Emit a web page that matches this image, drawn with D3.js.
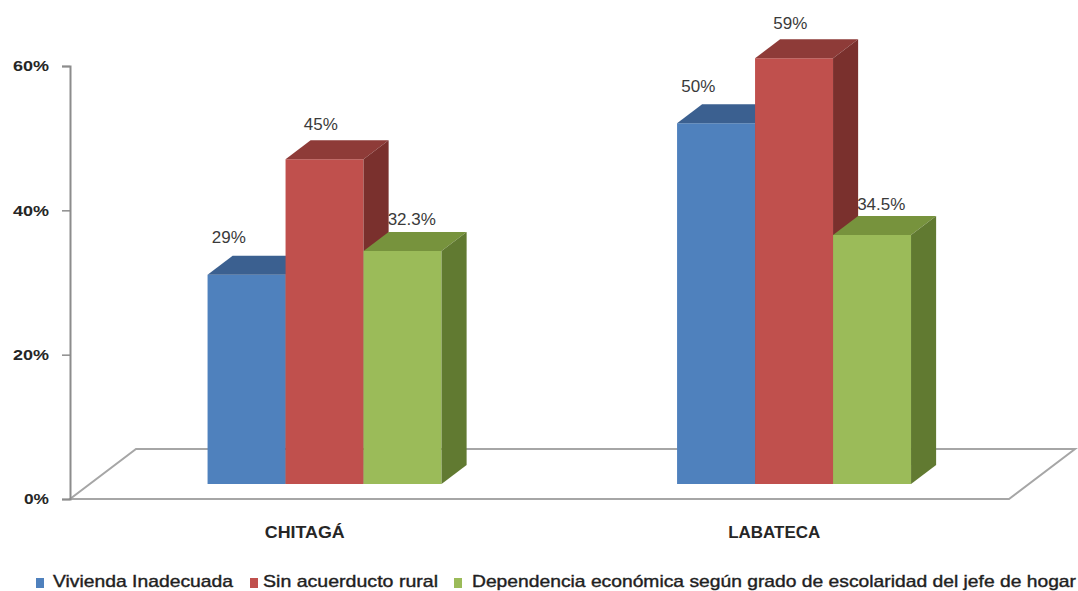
<!DOCTYPE html>
<meta charset="utf-8">
<script src="https://d3js.org/d3.v7.min.js"></script>
<style>
  body { margin: 0; background: #fff; }
  text { font-family: "Liberation Sans", Arial, sans-serif; }
</style>
<div id="chart"></div>
<script>

// chart data
const categories = ["CHITAGÁ", "LABATECA"];
const series = ["Vivienda Inadecuada", "Sin acuerducto rural", "Dependencia económica según grado de escolaridad del jefe de hogar"];
const vivienda = [29, 50];
const acueducto = [45, 59];
const dependencia = [32.3, 34.5];
const valueLabels = [["29%", "50%"], ["45%", "59%"], ["32.3%", "34.5%"]];
const yTicks = [0, 20, 40, 60];

const values = [vivienda, acueducto, dependencia];

// colours: front, top, side for each series
const faces = [
    {front: "#4f81bd", top: "#3b6090", side: "#2f4d74"},
    {front: "#c0504d", top: "#8e3b38", side: "#7a302d"},
    {front: "#9bbb59", top: "#77933d", side: "#617a31"}
];

const width = 1078, height = 591;

// oblique projection: front plane + depth vector
const depth = {dx: 66, dy: -50};
const barZ = [0.3, 0.68]; // bars sit in the middle of the floor depth

const svg = d3.select("#chart").append("svg")
    .attr("width", width)
    .attr("height", height);

const y = d3.scaleLinear().domain([0, 60]).range([499, 66]);

const x0 = d3.scaleBand().domain(categories).range([70, 1009]);
const x1 = d3.scaleBand().domain(d3.range(series.length))
    .range([0, x0.bandwidth()])
    .paddingOuter(1.51);

// project a point (x in front plane, value, depth z)
function P(x, v, z) {
    return [x + depth.dx * z, y(v) + depth.dy * z];
}
const line = pts => "M" + pts.map(p => p.join(",")).join("L") + "Z";

// floor
const floor = [P(70, 0, 0), P(1009, 0, 0), P(1009, 0, 1), P(70, 0, 1)];
svg.append("path")
    .attr("d", line(floor))
    .attr("fill", "#fff")
    .attr("stroke", "#a6a6a6")
    .attr("stroke-width", 2)
    .attr("stroke-linejoin", "miter");

// y axis
const yAxis = svg.append("g")
    .attr("transform", "translate(70,0)")
    .call(d3.axisLeft(y).tickValues(yTicks).tickFormat(d => d + "%").tickSize(8).tickPadding(13));
yAxis.select(".domain").attr("stroke", "#8c8c8c").attr("stroke-width", 2);
yAxis.selectAll(".tick line").attr("stroke", "#8c8c8c").attr("stroke-width", 1.5);
yAxis.selectAll(".tick text")
    .attr("fill", "#262626")
    .attr("textLength", d => d === 0 ? 25 : 36)
    .attr("lengthAdjust", "spacingAndGlyphs")
    .style("font-size", "15px")
    .style("font-weight", "bold");

// bars, drawn left to right so each front hides the previous side
const labelShift = [{dx: 2, dy: 17}, {dx: 16, dy: 15}, {dx: 29, dy: 11}];

categories.forEach((cat, ci) => {
    series.forEach((s, si) => {
        const v = values[si][ci];
        const xa = x0(cat) + x1(si);
        const xb = xa + x1.bandwidth();
        const [za, zb] = barZ;
        const g = svg.append("g");
        // front
        g.append("path")
            .attr("d", line([P(xa, 0, za), P(xb, 0, za), P(xb, v, za), P(xa, v, za)]))
            .attr("fill", faces[si].front);
        // top
        g.append("path")
            .attr("d", line([P(xa, v, za), P(xb, v, za), P(xb, v, zb), P(xa, v, zb)]))
            .attr("fill", faces[si].top);
        // side
        g.append("path")
            .attr("d", line([P(xb, 0, za), P(xb, 0, zb), P(xb, v, zb), P(xb, v, za)]))
            .attr("fill", faces[si].side);

        // value label above the bar
        const backTop = P(xa, v, zb);
        g.append("text")
            .attr("x", (xa + xb) / 2 + labelShift[si].dx)
            .attr("y", backTop[1] - labelShift[si].dy)
            .attr("text-anchor", "middle")
            .attr("dominant-baseline", "middle")
            .attr("fill", "#3a3a3a")
            .style("font-size", "17px")
            .text(valueLabels[si][ci]);
    });
});

// category labels
svg.append("g").selectAll("text")
    .data(categories)
    .join("text")
    .attr("x", d => x0(d) + x0.bandwidth() / 2)
    .attr("y", 534)
    .attr("text-anchor", "middle")
    .attr("dominant-baseline", "middle")
    .attr("textLength", (d, i) => [80, 92][i])
    .attr("lengthAdjust", "spacingAndGlyphs")
    .attr("fill", "#262626")
    .style("font-size", "17px")
    .style("font-weight", "bold")
    .text(d => d);

// legend
const legendItems = [
    {sx: 36, tx: 53, tw: 180},
    {sx: 250, tx: 263, tw: 175},
    {sx: 454, tx: 472, tw: 604}
];
const legend = svg.append("g").selectAll("g")
    .data(series)
    .join("g");
legend.append("rect")
    .attr("x", (d, i) => legendItems[i].sx)
    .attr("y", 578)
    .attr("width", 8)
    .attr("height", 10)
    .attr("fill", (d, i) => faces[i].front);
legend.append("text")
    .attr("x", (d, i) => legendItems[i].tx)
    .attr("y", 583)
    .attr("dominant-baseline", "middle")
    .attr("textLength", (d, i) => legendItems[i].tw)
    .attr("lengthAdjust", "spacingAndGlyphs")
    .attr("fill", "#1f1f1f")
    .attr("stroke", "#1f1f1f")
    .attr("stroke-width", 0.4)
    .style("font-size", "17px")
    .text(d => d);

</script>
